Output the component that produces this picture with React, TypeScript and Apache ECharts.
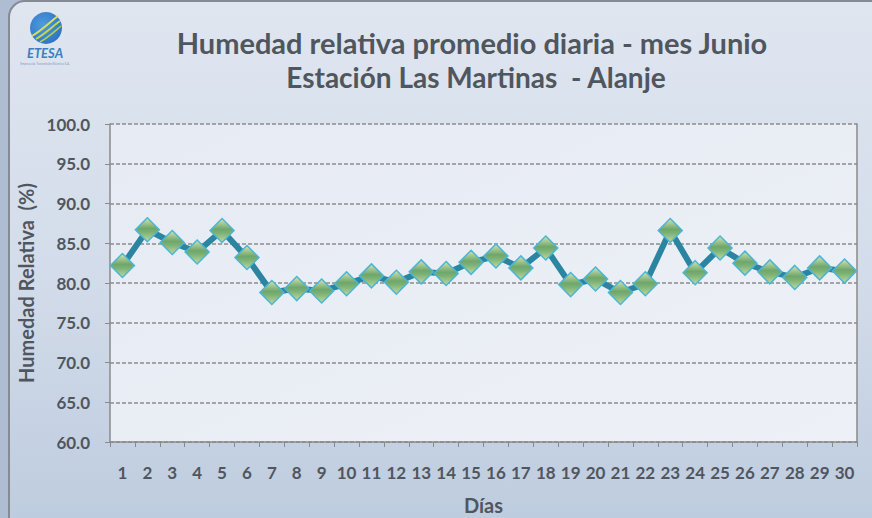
import React, { useEffect, useRef } from "react";
import * as echarts from "echarts";

const days = ["1","2","3","4","5","6","7","8","9","10","11","12","13","14","15","16","17","18","19","20","21","22","23","24","25","26","27","28","29","30"];
const humidity = [82.2, 86.7, 85.1, 83.9, 86.6, 83.2, 78.8, 79.3, 79.0, 79.9, 80.9, 80.1, 81.4, 81.2, 82.6, 83.4, 81.9, 84.4, 79.8, 80.5, 78.8, 79.9, 86.6, 81.3, 84.4, 82.5, 81.4, 80.7, 81.9, 81.5];
const titleLines = ["Humedad relativa promedio diaria - mes Junio", "Estación Las Martinas  - Alanje"];
const yName = "Humedad Relativa  (%)";
const xName = "Días";

const FONT = "Lato, 'Open Sans', sans-serif";
const TXT = "#50565e";

export default function App() {
  const ref = useRef<HTMLDivElement>(null);
  useEffect(() => {
    const chart = echarts.init(ref.current!, null, { renderer: "svg" });
    chart.setOption({
      animation: false,
      backgroundColor: "#aebdd1",
      graphic: [
        {
          type: "rect",
          z: -10,
          shape: { x: 9, y: 1, width: 880, height: 540, r: [16, 0, 0, 0] },
          style: {
            fill: new echarts.graphic.LinearGradient(0, 0, 0, 1, [
              { offset: 0, color: "#dfe6f0" },
              { offset: 0.5, color: "#d3dcea" },
              { offset: 1, color: "#bccbde" },
            ]),
            stroke: "#858b94",
            lineWidth: 2,
          },
        },
        {
          type: "circle",
          shape: { cx: 46, cy: 28, r: 16 },
          style: {
            fill: new echarts.graphic.RadialGradient(0.4, 0.4, 0.7, [
              { offset: 0, color: "#4f9be0" },
              { offset: 1, color: "#2a70c0" },
            ]),
          },
        },
        {
          type: "bezierCurve",
          shape: { x1: 32, y1: 36, x2: 58, y2: 16, cpx1: 42, cpy1: 30, cpx2: 50, cpy2: 22 },
          style: { stroke: "#d8e05a", lineWidth: 2, fill: "none" },
        },
        {
          type: "bezierCurve",
          shape: { x1: 36, y1: 39, x2: 60, y2: 21, cpx1: 46, cpy1: 33, cpx2: 53, cpy2: 26 },
          style: { stroke: "#c6d84a", lineWidth: 2, fill: "none" },
        },
        {
          type: "bezierCurve",
          shape: { x1: 40, y1: 42, x2: 61, y2: 26, cpx1: 49, cpy1: 37, cpx2: 55, cpy2: 31 },
          style: { stroke: "#b8d048", lineWidth: 1.5, fill: "none" },
        },
        {
          type: "text",
          x: 45, y: 53,
          style: { text: "ETESA", fill: "#3a7fc4", font: "italic bold 13px " + FONT, textAlign: "center", textVerticalAlign: "middle" },
        },
        {
          type: "text",
          x: 45, y: 64,
          style: { text: "Empresa de Transmisión Eléctrica S.A.", fill: "#7a9cc6", font: "3px " + FONT, textAlign: "center", textVerticalAlign: "middle" },
        },
        {
          type: "text",
          x: 472, y: 42,
          style: { text: titleLines[0], fill: TXT, font: "bold 29px " + FONT, textAlign: "center", textVerticalAlign: "middle" },
        },
        {
          type: "text",
          x: 476, y: 77,
          style: { text: titleLines[1], fill: TXT, font: "bold 28px " + FONT, textAlign: "center", textVerticalAlign: "middle" },
        },
      ],
      grid: {
        left: 110, right: 15, top: 124, bottom: 76,
        outerBoundsMode: "none",
        containLabel: false,
        show: true,
        backgroundColor: new echarts.graphic.LinearGradient(0, 0, 1, 1, [
          { offset: 0, color: "#e6ebf4" },
          { offset: 1, color: "#edf0f6" },
        ]),
        borderWidth: 0,
      },
      xAxis: {
        type: "category",
        data: days,
        boundaryGap: true,
        name: xName,
        nameLocation: "middle",
        nameGap: 53,
        nameTextStyle: { color: TXT, fontFamily: FONT, fontWeight: "bold", fontSize: 20 },
        axisLine: { lineStyle: { color: "#8a8a8a", width: 1.5 } },
        axisTick: { show: true, interval: 0, length: 5, alignWithLabel: false, lineStyle: { color: "#8a8a8a" } },
        axisLabel: { interval: 0, margin: 22, color: TXT, fontFamily: FONT, fontWeight: "bold", fontSize: 17 },
      },
      yAxis: [
        {
          type: "value",
          min: 60, max: 100, interval: 5,
          name: yName,
          nameLocation: "middle",
          nameGap: 72,
          nameTextStyle: { color: TXT, fontFamily: FONT, fontWeight: "bold", fontSize: 20 },
          axisLine: { show: true, lineStyle: { color: "#8a8a8a", width: 1.5 } },
          axisTick: { show: true, length: 5, lineStyle: { color: "#8a8a8a" } },
          axisLabel: { margin: 20, color: TXT, fontFamily: FONT, fontWeight: "bold", fontSize: 17, formatter: (v: number) => v.toFixed(1) },
          splitLine: { show: true, lineStyle: { color: "#8c8c8c", type: [4, 2], width: 1.5 } },
        },
        {
          type: "value",
          min: 60, max: 100, interval: 5,
          position: "right",
          axisLine: { show: true, lineStyle: { color: "#8a8a8a", width: 1.5 } },
          axisTick: { show: false },
          axisLabel: { show: false },
          splitLine: { show: false },
        },
      ],
      series: [
        {
          type: "line",
          data: humidity,
          yAxisIndex: 0,
          lineStyle: { color: "#2c85a0", width: 6 },
          symbol: "diamond",
          symbolSize: 24,
          itemStyle: {
            color: new echarts.graphic.LinearGradient(0, 0, 0, 1, [
              { offset: 0, color: "#d6e6b0" },
              { offset: 0.45, color: "#6fa66c" },
              { offset: 0.6, color: "#7bb174" },
              { offset: 1, color: "#c2daa0" },
            ]),
            borderColor: "#4cb6d4",
            borderWidth: 1.5,
          },
        },
      ],
    });
    return () => chart.dispose();
  }, []);
  return <div ref={ref} style={{ position: "fixed", left: 0, top: 0, width: 872, height: 518 }} />;
}
